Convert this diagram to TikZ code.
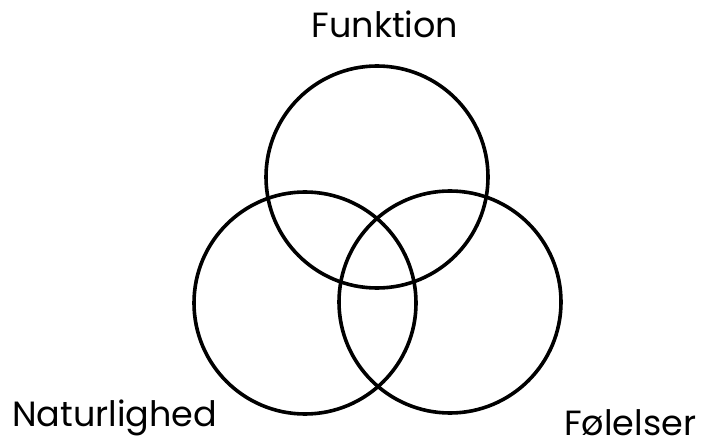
\documentclass[tikz,border=0pt]{standalone}
\usepackage{fontspec}
\setmainfont{Poppins}
\usetikzlibrary{positioning}
\tikzset{
  venn/.style={circle,draw=black,line width=3.6pt,minimum size=222pt,inner sep=0pt},
  vlabel/.style={font=\fontsize{35}{38}\selectfont,inner sep=0pt}
}
\begin{document}
\begin{tikzpicture}[x=1pt,y=-1pt]
  \useasboundingbox (0,0) rectangle (703,446);
  % the three sets
  \node[venn] (funk) at (377,177) {};
  \node[venn] (natur) at (305,303) {};
  \node[venn] (fole) at (450,302) {};
  % labels
  \node[vlabel,anchor=base] (funklab) at (385,38) {Funktion};
  \node[vlabel,anchor=base west] (naturlab) at (12,426) {Naturlighed};
  \node[vlabel,anchor=base west] (folelab) at (564,435) {Følelser};
\end{tikzpicture}
\end{document}
